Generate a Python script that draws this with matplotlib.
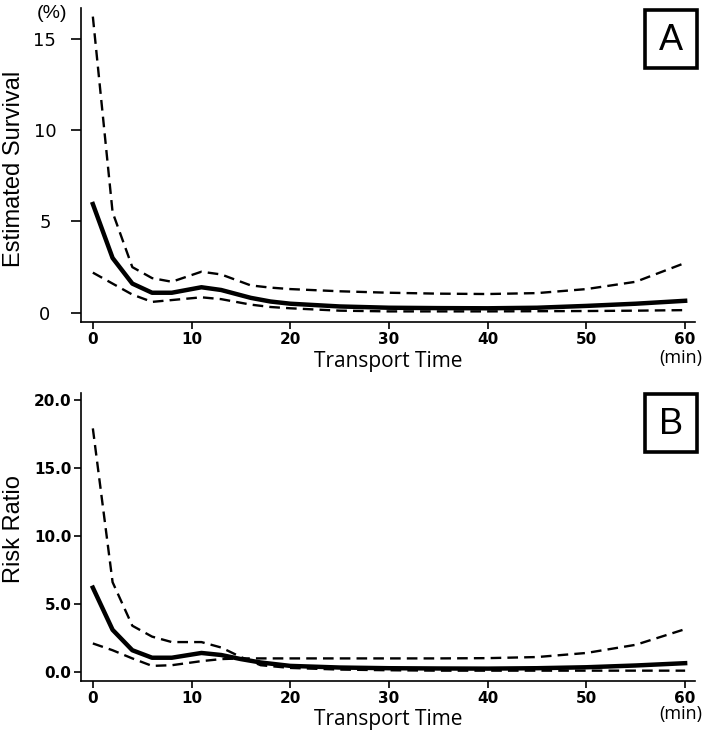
import matplotlib.pyplot as plt
from matplotlib.patches import Rectangle

# Panel A: estimated survival (%) vs transport time (min)
time_a = [0, 2, 4, 6, 8, 11, 13, 16, 18, 20, 25, 30, 35, 40, 45, 50, 55, 60]
surv_mid = [5.95, 3.0, 1.6, 1.1, 1.1, 1.4, 1.25, 0.82, 0.62, 0.5, 0.35, 0.28, 0.26, 0.25, 0.28, 0.38, 0.5, 0.66]
surv_up = [16.2, 5.5, 2.5, 1.9, 1.7, 2.25, 2.1, 1.5, 1.38, 1.3, 1.18, 1.1, 1.05, 1.03, 1.08, 1.3, 1.7, 2.73]
surv_lo = [2.2, 1.6, 1.0, 0.6, 0.7, 0.85, 0.75, 0.45, 0.32, 0.25, 0.12, 0.08, 0.08, 0.08, 0.09, 0.1, 0.12, 0.15]

# Panel B: risk ratio vs transport time
time_b = [0, 2, 4, 6, 8, 11, 13, 15, 17, 20, 25, 30, 35, 40, 45, 50, 55, 60]
rr_mid = [6.2, 3.1, 1.6, 1.05, 1.05, 1.4, 1.25, 0.95, 0.7, 0.45, 0.33, 0.28, 0.26, 0.25, 0.28, 0.35, 0.48, 0.65]
rr_d1 = [17.9, 6.6, 3.4, 2.6, 2.2, 2.2, 1.8, 1.1, 0.5, 0.3, 0.18, 0.13, 0.1, 0.1, 0.1, 0.1, 0.1, 0.1]
rr_d2 = [2.1, 1.6, 1.0, 0.45, 0.5, 0.8, 0.95, 1.0, 1.0, 1.0, 1.0, 1.0, 1.0, 1.02, 1.1, 1.4, 2.0, 3.15]

x_ticks = [0, 10, 20, 30, 40, 50, 60]
y_ticks_a = [0, 5, 10, 15]
y_labels_a = ['0', '5', '10', '15']
y_ticks_b = [0, 5, 10, 15, 20]
y_labels_b = ['0.0', '5.0', '10.0', '15.0', '20.0']

W, H = 709, 733
fig = plt.figure(figsize=(W / 100, H / 100), dpi=100)
ax_a = fig.add_axes([81 / W, 1 - 322 / H, 614 / W, 314 / H])
ax_b = fig.add_axes([81 / W, 1 - 681 / H, 614 / W, 288 / H])

label_font = 'Liberation Sans'
tick_font = 'DejaVu Sans'
xlab_font = 'Open Sans'
dash = (0, (4.5, 2.6))


def style_axes(ax):
    for s in ['top', 'right']:
        ax.spines[s].set_visible(False)
    for s in ['left', 'bottom']:
        ax.spines[s].set_linewidth(1.2)
    ax.set_xlim(-1.2, 61.0)
    ax.set_xticks(x_ticks)
    ax.set_xticklabels([str(t) for t in x_ticks], fontfamily=tick_font, fontsize=11, fontweight='bold')
    ax.tick_params(axis='x', direction='out', length=5, width=1.2, pad=2.5)


def fig_text(x, y, s, **kw):
    # position given in picture pixels from the top-left corner
    fig.text(x / W, 1 - y / H, s, ha='center', va='center', **kw)


def add_letter(cx, cy, letter):
    fig.add_artist(Rectangle(((cx - 26) / W, 1 - (cy + 29) / H), 52 / W, 58 / H,
                             transform=fig.transFigure, fill=False, ec='black', lw=2.6))
    fig_text(cx, cy + 1, letter, fontsize=26, fontfamily=label_font)


# Panel A
ax_a.plot(time_a, surv_up, color='black', lw=1.7, ls=dash)
ax_a.plot(time_a, surv_lo, color='black', lw=1.7, ls=dash)
ax_a.plot(time_a, surv_mid, color='black', lw=3.2)
ax_a.set_ylim(-0.5, 16.67)
style_axes(ax_a)
ax_a.set_yticks(y_ticks_a)
ax_a.set_yticklabels(y_labels_a, fontfamily=tick_font, fontsize=13)
ax_a.tick_params(axis='y', direction='out', length=7, width=1.2, pad=19)
for lab in ax_a.get_yticklabels():
    lab.set_ha('center')
fig_text(14, 169, 'Estimated Survival', rotation=90, fontsize=17, fontfamily=label_font)
fig_text(52, 13, '(%)', fontsize=14, fontfamily=label_font)
fig_text(388, 361, 'Transport Time', fontsize=15, fontfamily=xlab_font)
fig_text(681, 358, '(min)', fontsize=13, fontfamily=xlab_font)
add_letter(671, 39, 'A')

# Panel B
ax_b.plot(time_b, rr_d1, color='black', lw=1.7, ls=dash)
ax_b.plot(time_b, rr_d2, color='black', lw=1.7, ls=dash)
ax_b.plot(time_b, rr_mid, color='black', lw=3.2)
ax_b.set_ylim(-0.66, 20.5)
style_axes(ax_b)
ax_b.set_yticks(y_ticks_b)
ax_b.set_yticklabels(y_labels_b, fontfamily=tick_font, fontsize=11, fontweight='bold')
ax_b.tick_params(axis='y', direction='out', length=5, width=1.2, pad=2)
fig_text(14, 529, 'Risk Ratio', rotation=90, fontsize=17, fontfamily=label_font)
fig_text(388, 719, 'Transport Time', fontsize=15, fontfamily=xlab_font)
fig_text(681, 714, '(min)', fontsize=13, fontfamily=xlab_font)
add_letter(671, 423, 'B')

fig.savefig('out.png', dpi=100)
